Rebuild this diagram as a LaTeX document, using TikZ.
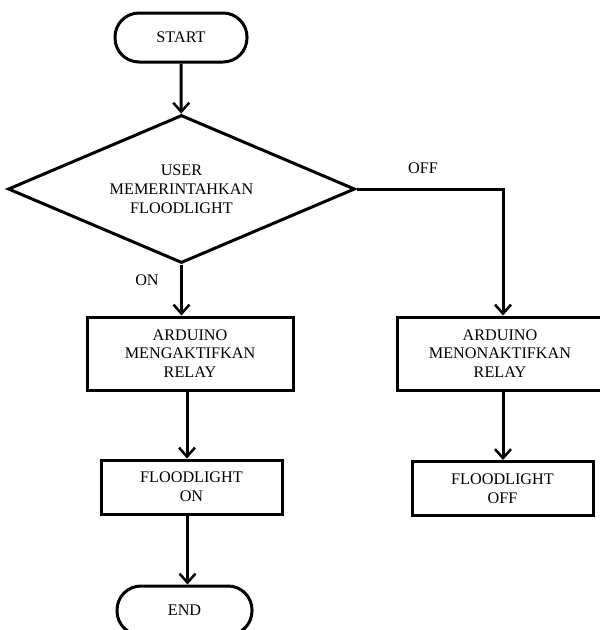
\documentclass[tikz,border=0pt]{standalone}
\usepackage{fontspec}
\setmainfont{Liberation Serif}
\usetikzlibrary{shapes.geometric,arrows.meta}
\begin{document}
\begin{tikzpicture}[x=1pt,y=-1pt,
  every node/.style={font=\fontsize{16.2}{18.8}\selectfont, align=center, inner sep=0pt},
  term/.style={draw, line width=3pt, rounded corners=24pt, minimum width=132pt, minimum height=49pt},
  proc/.style={draw, line width=3pt, minimum width=206pt, minimum height=73pt},
  small/.style={draw, line width=3pt, minimum width=181pt, minimum height=54pt},
  decide/.style={draw, line width=3pt, shape=diamond, aspect=2.34, minimum width=347pt, minimum height=148pt},
  flow/.style={line width=3pt, -{Straight Barb[length=9pt,width=16pt,line width=2.5pt]}},
  lbl/.style={font=\fontsize{16.2}{18.8}\selectfont}
]
\useasboundingbox (0,0) rectangle (600,630);
\node[term] (start) at (181,37.5) {START};
\node[decide] (dec) at (181.5,189) {USER\\MEMERINTAHKAN\\FLOODLIGHT};
\node[proc] (on1) at (190,353.5) {ARDUINO\\MENGAKTIFKAN\\RELAY};
\node[proc] (off1) at (500,353.5) {ARDUINO\\MENONAKTIFKAN\\RELAY};
\node[small] (on2) at (191.5,487) {FLOODLIGHT\\ON};
\node[small] (off2) at (502.5,488.5) {FLOODLIGHT\\OFF};
\node[term, minimum width=135pt] (stop) at (184.5,610.5) {END};
\node[lbl] (onl) at (147,280) {ON};
\node[lbl] (offl) at (423,168) {OFF};
\draw[flow] (start) -- (dec);
\draw[flow] (dec.south) -- (dec.south |- on1.north);
\draw[flow] (dec.east) -| ([xshift=3pt]off1.north);
\draw[flow] ([xshift=-3pt]on1.south) -- ([xshift=-3pt]on1.south |- on2.north);
\draw[flow] ([xshift=3pt]off1.south) -- ([xshift=3pt]off1.south |- off2.north);
\draw[flow] ([xshift=-4pt]on2.south) -- ([xshift=-4pt]on2.south |- stop.north);
\end{tikzpicture}
\end{document}
